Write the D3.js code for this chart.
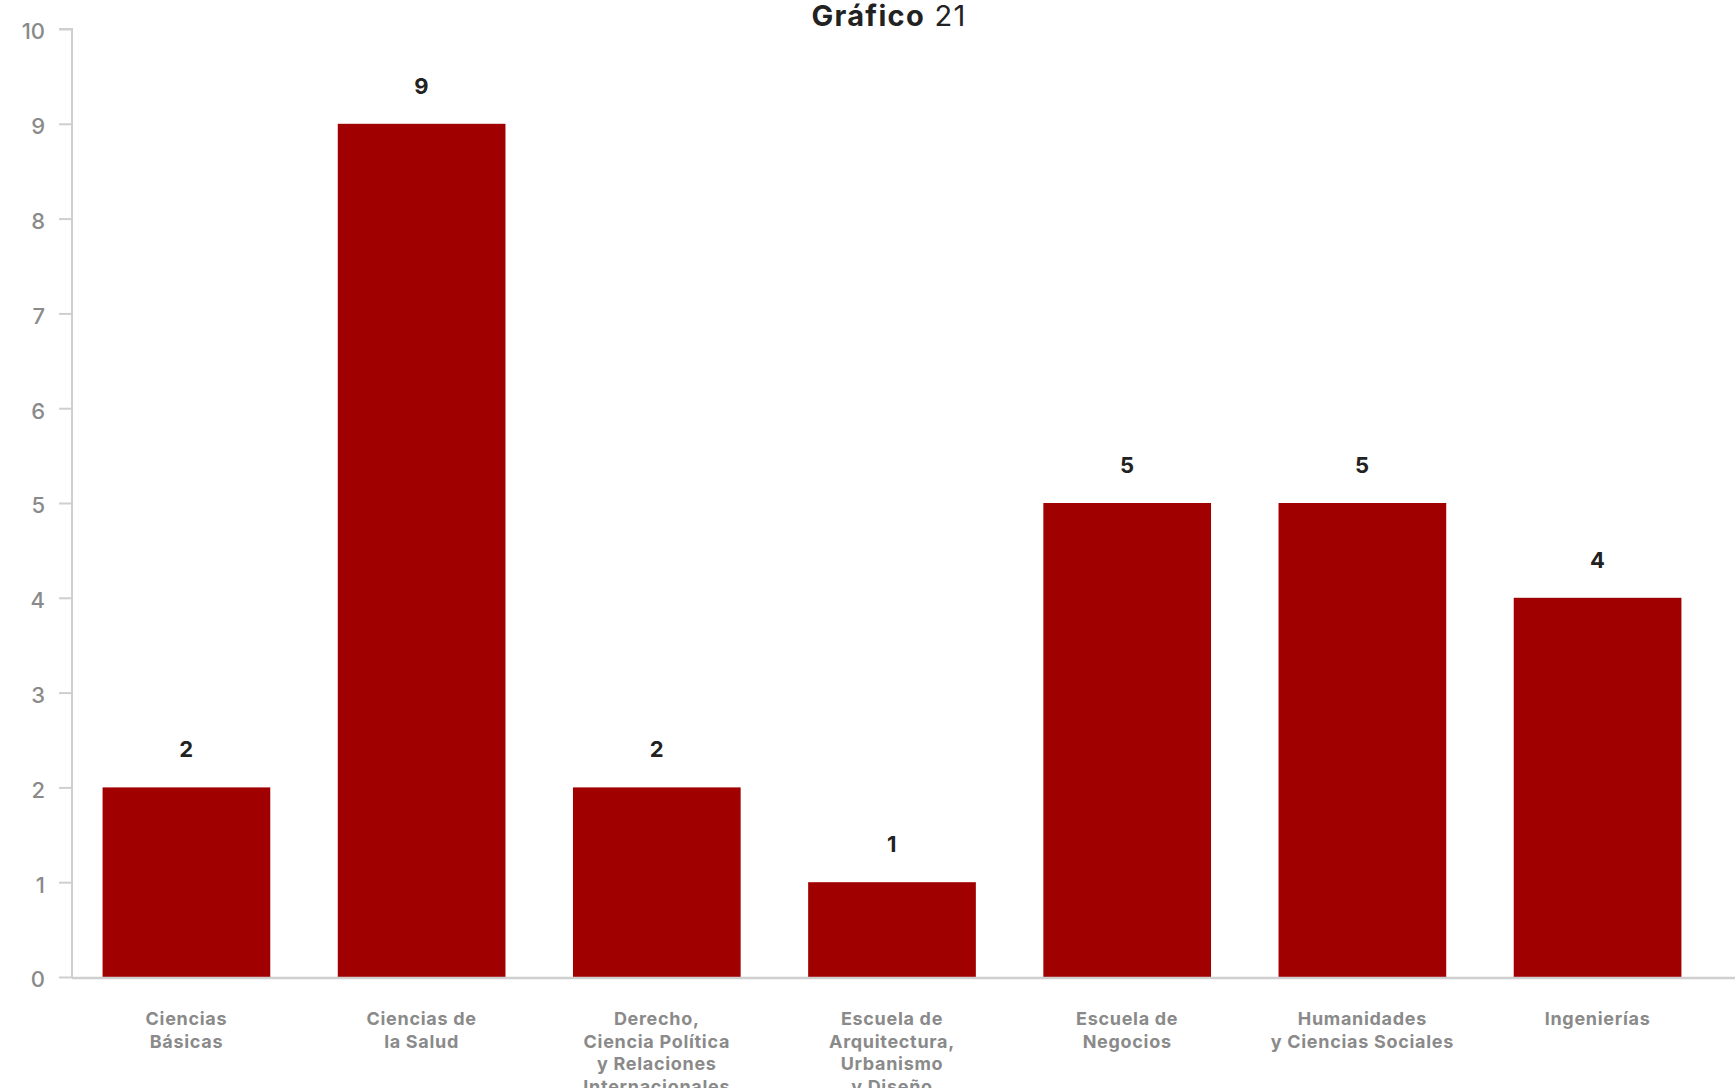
<!DOCTYPE html>
<html><head><meta charset="utf-8">
<script src="https://cdn.jsdelivr.net/npm/d3@7"></script>
<style>
html,body{margin:0;padding:0;background:#fff;}
svg{display:block;font-family:Inter, "Open Sans", sans-serif;}
</style></head>
<body>
<svg id="chart" width="1735" height="1088"></svg>
<script>
const categories = [
  ["Ciencias", "Básicas"],
  ["Ciencias de", "la Salud"],
  ["Derecho,", "Ciencia Política", "y Relaciones", "Internacionales"],
  ["Escuela de", "Arquitectura,", "Urbanismo", "y Diseño"],
  ["Escuela de", "Negocios"],
  ["Humanidades", "y Ciencias Sociales"],
  ["Ingenierías"]
];
const values = [2, 9, 2, 1, 5, 5, 4];
const yTicks = [0,1,2,3,4,5,6,7,8,9,10];
const titleBold = "Gráfico";
const titleRest = " 21";

const svg = d3.select("#chart");
const W = 1735, H = 1088;
const axisX = 72, baseY = 977, topY = 29;

const x = d3.scaleBand()
  .domain(categories.map((d,i)=>i))
  .range([axisX, 1712])
  .paddingInner(0.287)
  .paddingOuter(0.13);
const y = d3.scaleLinear().domain([0,10]).range([baseY, topY]);

// title
const title = svg.append("text")
  .attr("x", 889).attr("y", 26)
  .attr("text-anchor","middle")
  .attr("font-size", 29).attr("letter-spacing", 1.3).attr("fill","#222");
title.append("tspan").attr("font-weight",700).text(titleBold);
title.append("tspan").attr("font-weight",400).text(titleRest);

// bars
svg.append("g").selectAll("rect").data(values).join("rect")
  .attr("x",(d,i)=>x(i))
  .attr("width", x.bandwidth())
  .attr("y", d=>y(d))
  .attr("height", d=>baseY - y(d))
  .attr("fill","#a00000");

// value labels
svg.append("g").selectAll("text").data(values).join("text")
  .attr("x",(d,i)=>x(i)+x.bandwidth()/2)
  .attr("y", d=>y(d)-30)
  .attr("text-anchor","middle")
  .attr("font-size",22).attr("font-weight",700).attr("letter-spacing",0.5).attr("fill","#222")
  .text(d=>d);

// y axis
const yAxis = d3.axisLeft(y).tickValues(yTicks).tickSize(13).tickPadding(14).tickFormat(d3.format("d"));
const gy = svg.append("g").attr("transform",`translate(${axisX},0)`).call(yAxis);
gy.select(".domain").attr("stroke","#cfcfcf").attr("stroke-width",2)
  .attr("d", `M-13,${y(10)}H0V${baseY}`);
gy.selectAll(".tick line").attr("stroke","#cfcfcf").attr("stroke-width",2);
gy.selectAll(".tick text").attr("font-size",22).attr("fill","#8a8a8a")
  .attr("font-family","Inter, sans-serif").attr("font-weight",500)
  .attr("dy","0.45em");

// x axis line
svg.append("line").attr("x1",axisX).attr("x2",W).attr("y1",baseY+1).attr("y2",baseY+1)
  .attr("stroke","#cfcfcf").attr("stroke-width",2.5);

// x labels
const xl = svg.append("g").selectAll("text").data(categories).join("text")
  .attr("text-anchor","middle")
  .attr("font-size",18).attr("letter-spacing",0.7).attr("font-weight",700).attr("fill","#8a8a8a");
xl.each(function(lines,i){
  const t = d3.select(this);
  lines.forEach((ln,j)=>{
    t.append("tspan").attr("x", x(i)+x.bandwidth()/2).attr("y", 1025 + j*22.5).text(ln);
  });
});
</script>
</body></html>
